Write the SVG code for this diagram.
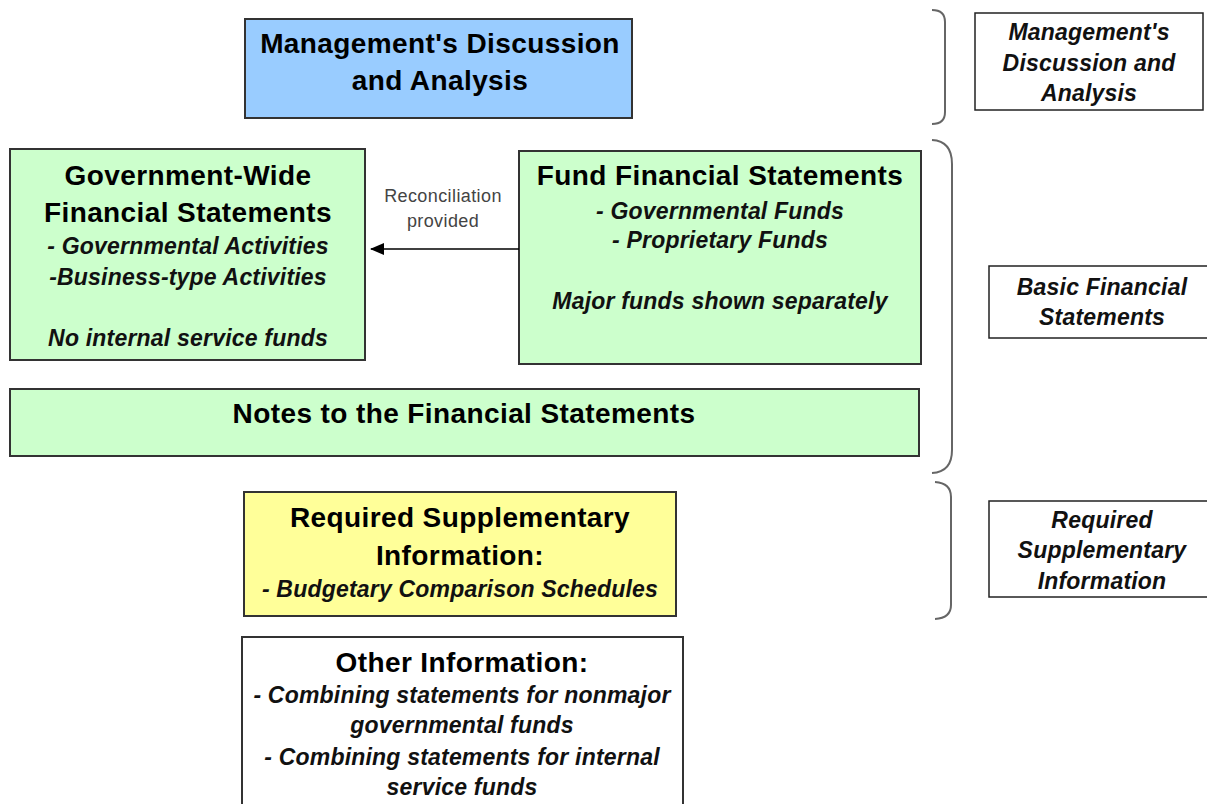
<svg xmlns="http://www.w3.org/2000/svg" width="1207" height="804" viewBox="0 0 1207 804">
<defs>
<style>
.box{stroke:#333;stroke-width:2}
.blue{fill:#99ccff}
.green{fill:#ccffcc}
.yellow{fill:#ffff99}
.white{fill:#ffffff}
.label{fill:#ffffff;stroke:#222;stroke-width:1.5}
text{font-family:"Liberation Sans",Arial,sans-serif;text-anchor:middle;fill:#000}
.t{font-size:28px;font-weight:bold;letter-spacing:0.4px}
.i{font-size:23px;font-weight:bold;font-style:italic;letter-spacing:0.2px;fill:#111}
.r{font-size:18px;letter-spacing:0.4px;fill:#444}
.brace{fill:none;stroke:#666;stroke-width:2}
.conn{stroke:#000;stroke-width:1.5;fill:none}
</style>
<marker id="arr" viewBox="0 0 14 12" refX="13" refY="6" markerWidth="14" markerHeight="12" markerUnits="userSpaceOnUse" orient="auto">
<path d="M0,0 L14,6 L0,12 z" fill="#000"/>
</marker>
</defs>
<rect width="1207" height="804" fill="#ffffff"/>

<g id="mda">
<rect class="box blue" x="245" y="19" width="387" height="99"/>
<text class="t" x="440" y="53">Management's Discussion</text>
<text class="t" x="440" y="90">and Analysis</text>
</g>

<g id="gov-wide">
<rect class="box green" x="10" y="149" width="355" height="211"/>
<text class="t" x="188" y="185">Government-Wide</text>
<text class="t" x="188" y="222">Financial Statements</text>
<text class="i" x="188" y="254">- Governmental Activities</text>
<text class="i" x="188" y="285">-Business-type Activities</text>
<text class="i" x="188" y="346">No internal service funds</text>
</g>

<g id="fund">
<rect class="box green" x="519" y="151" width="402" height="213"/>
<text class="t" x="720" y="185">Fund Financial Statements</text>
<text class="i" x="720" y="219">- Governmental Funds</text>
<text class="i" x="720" y="248">- Proprietary Funds</text>
<text class="i" x="720" y="309">Major funds shown separately</text>
</g>

<g id="notes">
<rect class="box green" x="10" y="389" width="909" height="67"/>
<text class="t" x="464" y="423">Notes to the Financial Statements</text>
</g>

<g id="rsi">
<rect class="box yellow" x="244" y="492" width="432" height="124"/>
<text class="t" x="460" y="527">Required Supplementary</text>
<text class="t" x="460" y="565">Information:</text>
<text class="i" x="460" y="597">- Budgetary Comparison Schedules</text>
</g>

<g id="other">
<rect class="box white" x="242" y="637" width="441" height="180"/>
<text class="t" x="462" y="672">Other Information:</text>
<text class="i" x="462" y="703">- Combining statements for nonmajor</text>
<text class="i" x="462" y="733">governmental funds</text>
<text class="i" x="462" y="765">- Combining statements for internal</text>
<text class="i" x="462" y="795">service funds</text>
</g>

<g id="label-mda">
<path class="brace" d="M932,10 Q945,10 945,22 L945,112 Q945,124 932,124"/>
<rect class="label" x="975" y="13" width="228" height="97"/>
<text class="i" x="1089" y="40">Management's</text>
<text class="i" x="1089" y="71">Discussion and</text>
<text class="i" x="1089" y="101">Analysis</text>
</g>

<g id="label-basic">
<path class="brace" d="M932,140 Q952,141 952,164 L952,450 Q952,472 932,473"/>
<rect class="label" x="989" y="266" width="226" height="72"/>
<text class="i" x="1102" y="295">Basic Financial</text>
<text class="i" x="1102" y="325">Statements</text>
</g>

<g id="label-rsi">
<path class="brace" d="M935,482 Q951,483 951,497 L951,605 Q951,618 935,619"/>
<rect class="label" x="989" y="501" width="226" height="96"/>
<text class="i" x="1102" y="528">Required</text>
<text class="i" x="1102" y="558">Supplementary</text>
<text class="i" x="1102" y="589">Information</text>
</g>

<g id="connectors">
<line class="conn" x1="519" y1="249" x2="371" y2="249" marker-end="url(#arr)"/>
<text class="r" x="443" y="202">Reconciliation</text>
<text class="r" x="443" y="227">provided</text>
</g>
</svg>
